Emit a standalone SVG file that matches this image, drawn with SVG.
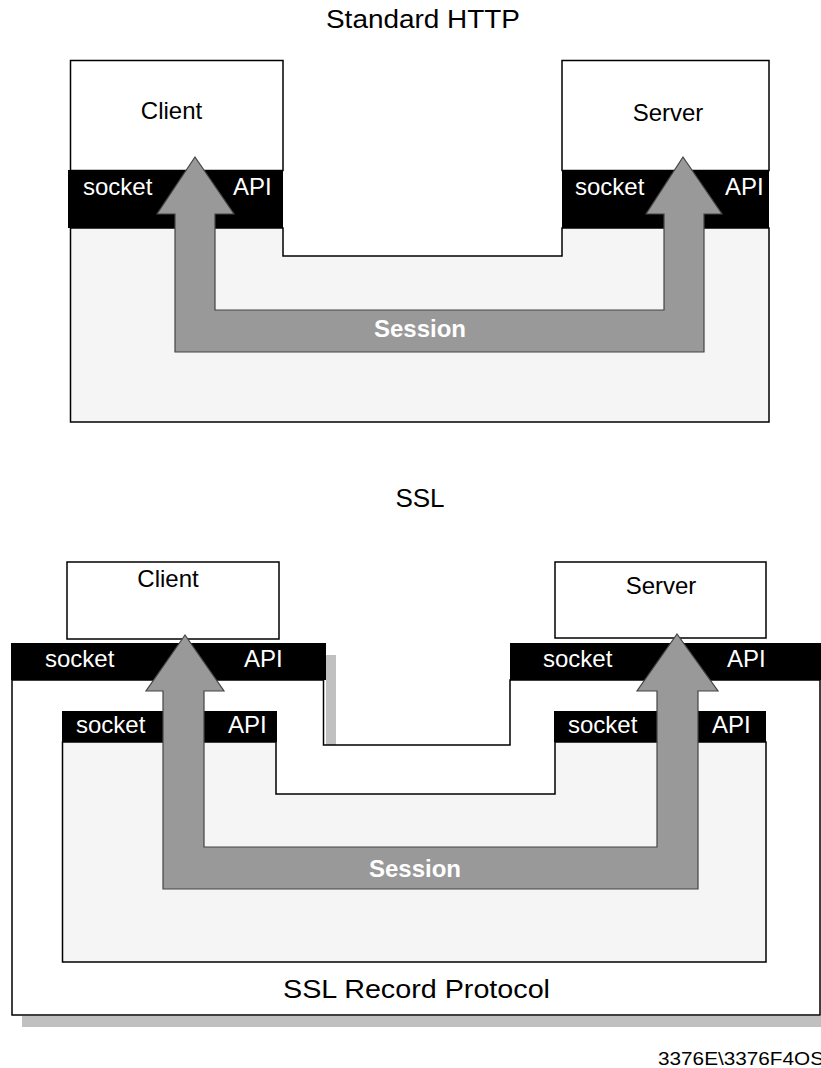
<svg xmlns="http://www.w3.org/2000/svg" width="821" height="1068" viewBox="0 0 821 1068">
<style>
.t{font-family:"Liberation Sans",Arial,sans-serif;fill:#000}
.w{font-family:"Liberation Sans",Arial,sans-serif;fill:#fff;font-size:24px}
.s{font-family:"Liberation Sans",Arial,sans-serif;fill:#fff;font-size:24px;font-weight:bold}
.box{fill:#fff;stroke:#000;stroke-width:1.5}
.area{fill:#f5f5f5;stroke:#000;stroke-width:1.5}
.band{fill:#000}
.arrow{fill:#999;stroke:#444;stroke-width:1.2}
.shadow{fill:#c0c0c0}
</style>
<rect width="821" height="1068" fill="#fff"/>
<g id="title-http"><text class="t" x="423" y="28" font-size="26" text-anchor="middle" textLength="194" lengthAdjust="spacingAndGlyphs">Standard HTTP</text></g>
<g id="http-area"><path class="area" d="M70.5,228 V422 H769 V228 H562 V256 H283 V228 Z"/></g>
<g id="http-client"><rect class="box" x="70.5" y="60.5" width="212.5" height="110"/><text class="t" x="171.5" y="119" font-size="24" text-anchor="middle">Client</text></g>
<g id="http-server"><rect class="box" x="562" y="60.5" width="207" height="110"/><text class="t" x="668" y="121" font-size="24" text-anchor="middle">Server</text></g>
<g id="http-client-socket"><rect class="band" x="68" y="170" width="215" height="58"/><text class="w" x="83" y="195">socket</text><text class="w" x="233" y="195">API</text></g>
<g id="http-server-socket"><rect class="band" x="562" y="170" width="207" height="58"/><text class="w" x="575" y="195">socket</text><text class="w" x="725" y="195">API</text></g>

<g id="title-ssl"><text class="t" x="420" y="507" font-size="26" text-anchor="middle">SSL</text></g>
<g id="ssl-record"><rect class="shadow" x="22" y="1016" width="799" height="11"/><rect class="shadow" x="326" y="655" width="10" height="90"/><path d="M12,680 V1015 H820 V680 H510 V745 H323.5 V680 Z" fill="#fff" stroke="#000" stroke-width="1.5"/><text class="t" x="416.5" y="998" font-size="26" text-anchor="middle" textLength="267" lengthAdjust="spacingAndGlyphs">SSL Record Protocol</text></g>
<g id="ssl-client"><rect class="box" x="67" y="562" width="212" height="77"/><text class="t" x="168" y="587" font-size="24" text-anchor="middle">Client</text></g>
<g id="ssl-server"><rect class="box" x="555" y="562" width="211" height="76"/><text class="t" x="661" y="594" font-size="24" text-anchor="middle">Server</text></g>
<g id="ssl-outer-client-socket"><rect class="band" x="11" y="643" width="315" height="37"/><text class="w" x="45" y="667">socket</text><text class="w" x="244" y="667">API</text></g>
<g id="ssl-outer-server-socket"><rect class="band" x="510" y="643" width="311" height="37"/><text class="w" x="543" y="667">socket</text><text class="w" x="727" y="667">API</text></g>
<g id="ssl-inner-area"><path class="area" d="M62.5,742 V962 H766 V742 H555 V794 H276 V742 Z"/></g>
<g id="ssl-inner-client-socket"><rect class="band" x="62" y="711" width="215" height="31"/><text class="w" x="76" y="733">socket</text><text class="w" x="228" y="733">API</text></g>
<g id="ssl-inner-server-socket"><rect class="band" x="554" y="711" width="212" height="31"/><text class="w" x="568" y="733">socket</text><text class="w" x="712" y="733">API</text></g>

<g id="connectors">
<path id="http-session" class="arrow" d="M195,157 L157,214 H175 V352 H704 V214 H722 L683,157 L646,214 H664 V310 H215 V214 H234 Z"/>
<text class="s" x="420" y="337" text-anchor="middle">Session</text>
<path id="ssl-session" class="arrow" d="M185,635 L146,691 H163 V889 H698 V691 H718 L677,634 L637,691 H657 V847 H204 V691 H224 Z"/>
<text class="s" x="415" y="877" text-anchor="middle">Session</text>
</g>
<g id="figure-id"><text class="t" x="658" y="1065" font-size="18" textLength="166" lengthAdjust="spacingAndGlyphs">3376E\3376F4OS</text></g>
</svg>
